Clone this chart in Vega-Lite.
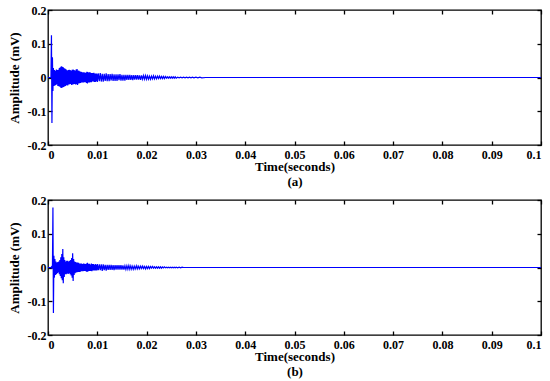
{
  "$schema": "https://vega.github.io/schema/vega-lite/v6.json",
  "padding": {"left": 7, "top": 3, "right": 5, "bottom": 0},
  "background": "white",
  "config": {
    "view": {"stroke": "black", "strokeWidth": 1.3},
    "font": "Times New Roman",
    "axis": {
      "domain": false,
      "grid": false,
      "tickColor": "black",
      "tickSize": -4,
      "tickWidth": 1.3,
      "labelFont": "Times New Roman",
      "labelFontWeight": "bold",
      "labelFontSize": 12,
      "labelColor": "black",
      "titleFont": "Times New Roman",
      "titleFontWeight": "bold",
      "titleFontSize": 13,
      "titleColor": "black"
    }
  },
  "datasets": {
    "sig": [
      {"t":0,"a":0,"b":0},{"t":0.0006,"a":0,"b":0},
      {"t":0.0007,"a":0.125,"b":0.002},{"t":0.0008,"a":-0.135,"b":-0.003},{"t":0.0009,"a":0.06,"b":0.004},{"t":0.001,"a":-0.04,"b":0.178},
      {"t":0.0011,"a":0.028,"b":-0.135},{"t":0.0012,"a":-0.025,"b":0.035},{"t":0.0013,"a":0.022,"b":-0.03},{"t":0.0014,"a":-0.024,"b":0.025},
      {"t":0.0015,"a":0.02,"b":-0.022},{"t":0.0016,"a":-0.022,"b":0.018},{"t":0.0017,"a":0.024,"b":-0.02},{"t":0.0018,"a":-0.02,"b":0.015},
      {"t":0.0019,"a":0.022,"b":-0.017},{"t":0.002,"a":-0.025,"b":0.016},{"t":0.0021,"a":0.023,"b":-0.015},{"t":0.0022,"a":-0.026,"b":0.018},
      {"t":0.0023,"a":0.028,"b":-0.02},{"t":0.0024,"a":-0.027,"b":0.022},{"t":0.0025,"a":0.03,"b":-0.025},{"t":0.0026,"a":-0.03,"b":0.03},
      {"t":0.0027,"a":0.033,"b":-0.032},{"t":0.0028,"a":-0.031,"b":0.04},{"t":0.0029,"a":0.032,"b":-0.038},{"t":0.003,"a":-0.029,"b":0.055},
      {"t":0.0031,"a":0.03,"b":-0.047},{"t":0.0032,"a":-0.028,"b":0.03},{"t":0.0033,"a":0.027,"b":-0.028},{"t":0.0034,"a":-0.026,"b":0.022},
      {"t":0.0035,"a":0.026,"b":-0.02},{"t":0.0036,"a":-0.025,"b":0.018},{"t":0.0037,"a":0.024,"b":-0.02},{"t":0.0038,"a":-0.022,"b":0.02},
      {"t":0.0039,"a":0.021,"b":-0.018},{"t":0.004,"a":-0.024,"b":0.02},{"t":0.0041,"a":0.022,"b":-0.019},{"t":0.0042,"a":-0.021,"b":0.018},
      {"t":0.0043,"a":0.023,"b":-0.017},{"t":0.0044,"a":-0.02,"b":0.02},{"t":0.0045,"a":0.022,"b":-0.02},{"t":0.0046,"a":-0.019,"b":0.022},
      {"t":0.0047,"a":0.02,"b":-0.024},{"t":0.0048,"a":-0.022,"b":0.028},{"t":0.0049,"a":0.023,"b":-0.03},{"t":0.005,"a":-0.021,"b":0.042},
      {"t":0.0051,"a":0.024,"b":-0.04},{"t":0.0052,"a":-0.02,"b":0.025},{"t":0.0053,"a":0.022,"b":-0.022},{"t":0.0054,"a":-0.019,"b":0.018},
      {"t":0.0055,"a":0.02,"b":-0.017},{"t":0.0056,"a":-0.021,"b":0.016},{"t":0.0057,"a":0.024,"b":-0.015},{"t":0.0058,"a":-0.02,"b":0.015},
      {"t":0.0059,"a":0.025,"b":-0.014},{"t":0.006,"a":-0.022,"b":0.015},{"t":0.0061,"a":0.021,"b":-0.013},{"t":0.0062,"a":-0.018,"b":0.014},
      {"t":0.0063,"a":0.02,"b":-0.013},{"t":0.0064,"a":-0.017,"b":0.012},{"t":0.0065,"a":0.018,"b":-0.013},{"t":0.0066,"a":-0.016,"b":0.012},
      {"t":0.0067,"a":0.017,"b":-0.011},{"t":0.0068,"a":-0.015,"b":0.012},{"t":0.0069,"a":0.016,"b":-0.011},{"t":0.007,"a":-0.015,"b":0.01},
      {"t":0.0071,"a":0.014,"b":-0.011},{"t":0.0072,"a":-0.015,"b":0.012},{"t":0.0073,"a":0.016,"b":-0.01},{"t":0.0074,"a":-0.014,"b":0.011},
      {"t":0.0075,"a":0.013,"b":-0.01},{"t":0.0076,"a":-0.014,"b":0.01},{"t":0.0077,"a":0.015,"b":-0.011},{"t":0.0078,"a":-0.016,"b":0.012},
      {"t":0.0079,"a":0.017,"b":-0.013},{"t":0.008,"a":-0.018,"b":0.014},{"t":0.0081,"a":0.016,"b":-0.012},{"t":0.0082,"a":-0.015,"b":0.011},
      {"t":0.0083,"a":0.014,"b":-0.01},{"t":0.0084,"a":-0.015,"b":0.011},{"t":0.0085,"a":0.016,"b":-0.01},{"t":0.0086,"a":-0.014,"b":0.009},
      {"t":0.0087,"a":0.013,"b":-0.01},{"t":0.0088,"a":-0.014,"b":0.012},{"t":0.0089,"a":0.013,"b":-0.011},{"t":0.009,"a":-0.012,"b":0.01},
      {"t":0.0091,"a":0.013,"b":-0.009},{"t":0.0092,"a":-0.012,"b":0.01},{"t":0.0093,"a":0.014,"b":-0.009},{"t":0.0094,"a":-0.013,"b":0.008},
      {"t":0.0095,"a":0.012,"b":-0.009},{"t":0.0096,"a":-0.013,"b":0.01},{"t":0.0097,"a":0.012,"b":-0.009},{"t":0.0098,"a":-0.011,"b":0.008},
      {"t":0.0099,"a":0.012,"b":-0.009},{"t":0.01,"a":-0.013,"b":0.01},
      {"t":0.0102,"a":0.012,"b":-0.008},{"t":0.0104,"a":-0.011,"b":0.009},{"t":0.0106,"a":0.013,"b":-0.008},{"t":0.0108,"a":-0.012,"b":0.009},
      {"t":0.011,"a":0.011,"b":-0.01},{"t":0.0112,"a":-0.012,"b":0.009},{"t":0.0114,"a":0.011,"b":-0.008},{"t":0.0116,"a":-0.01,"b":0.008},
      {"t":0.0118,"a":0.012,"b":-0.009},{"t":0.012,"a":-0.011,"b":0.008},{"t":0.0122,"a":0.01,"b":-0.007},{"t":0.0124,"a":-0.011,"b":0.008},
      {"t":0.0126,"a":0.01,"b":-0.007},{"t":0.0128,"a":-0.009,"b":0.008},{"t":0.013,"a":0.011,"b":-0.007},{"t":0.0132,"a":-0.01,"b":0.007},
      {"t":0.0134,"a":0.009,"b":-0.008},{"t":0.0136,"a":-0.01,"b":0.007},{"t":0.0138,"a":0.009,"b":-0.006},{"t":0.014,"a":-0.01,"b":0.007},
      {"t":0.0142,"a":0.009,"b":-0.006},{"t":0.0144,"a":-0.008,"b":0.007},{"t":0.0146,"a":0.01,"b":-0.006},{"t":0.0148,"a":-0.009,"b":0.007},
      {"t":0.015,"a":0.008,"b":-0.006},{"t":0.0152,"a":-0.009,"b":0.006},{"t":0.0154,"a":0.008,"b":-0.006},{"t":0.0156,"a":-0.009,"b":0.005},
      {"t":0.0158,"a":0.008,"b":-0.006},{"t":0.016,"a":-0.007,"b":0.005},{"t":0.0162,"a":0.008,"b":-0.005},{"t":0.0164,"a":-0.007,"b":0.006},
      {"t":0.0166,"a":0.008,"b":-0.005},{"t":0.0168,"a":-0.007,"b":0.005},{"t":0.017,"a":0.007,"b":-0.005},{"t":0.0172,"a":-0.008,"b":0.004},
      {"t":0.0174,"a":0.007,"b":-0.005},{"t":0.0176,"a":-0.006,"b":0.004},{"t":0.0178,"a":0.007,"b":-0.004},{"t":0.018,"a":-0.006,"b":0.005},
      {"t":0.0182,"a":0.007,"b":-0.004},{"t":0.0184,"a":-0.006,"b":0.004},{"t":0.0186,"a":0.006,"b":-0.004},{"t":0.0188,"a":-0.007,"b":0.004},
      {"t":0.019,"a":0.006,"b":-0.003},{"t":0.0192,"a":-0.005,"b":0.004},{"t":0.0194,"a":0.006,"b":-0.003},{"t":0.0196,"a":-0.005,"b":0.003},
      {"t":0.0198,"a":0.006,"b":-0.004},{"t":0.02,"a":-0.005,"b":0.003},{"t":0.0202,"a":0.005,"b":-0.003},{"t":0.0204,"a":-0.005,"b":0.003},
      {"t":0.0206,"a":0.004,"b":-0.003},{"t":0.0208,"a":-0.005,"b":0.003},{"t":0.021,"a":0.004,"b":-0.002},{"t":0.0212,"a":-0.004,"b":0.003},
      {"t":0.0214,"a":0.005,"b":-0.002},{"t":0.0216,"a":-0.004,"b":0.002},{"t":0.0218,"a":0.004,"b":-0.002},{"t":0.022,"a":-0.004,"b":0.002},
      {"t":0.0222,"a":0.004,"b":-0.002},{"t":0.0224,"a":-0.003,"b":0.002},{"t":0.0226,"a":0.004,"b":-0.002},{"t":0.0228,"a":-0.003,"b":0.002},
      {"t":0.023,"a":0.003,"b":-0.002},{"t":0.0232,"a":-0.003,"b":0.002},{"t":0.0234,"a":0.003,"b":-0.001},{"t":0.0236,"a":-0.003,"b":0.002},
      {"t":0.0238,"a":0.003,"b":-0.001},{"t":0.024,"a":-0.002,"b":0.001},{"t":0.0242,"a":0.002,"b":-0.001},{"t":0.0244,"a":-0.002,"b":0.001},
      {"t":0.0246,"a":0.002,"b":-0.001},{"t":0.0248,"a":-0.002,"b":0.001},{"t":0.025,"a":0.002,"b":-0.001},{"t":0.0252,"a":-0.002,"b":0.001},
      {"t":0.0254,"a":0.002,"b":-0.001},{"t":0.0256,"a":-0.002,"b":0.001},{"t":0.0258,"a":0.002,"b":-0.001},{"t":0.026,"a":-0.002,"b":0.001},
      {"t":0.0263,"a":0.001,"b":-0.001},{"t":0.0266,"a":-0.001,"b":0.001},{"t":0.0269,"a":0.001,"b":-0.001},{"t":0.0272,"a":-0.001,"b":0.001},
      {"t":0.0275,"a":0.001,"b":0},{"t":0.0278,"a":-0.001,"b":0},{"t":0.0281,"a":0.001,"b":0},{"t":0.0284,"a":-0.001,"b":0},
      {"t":0.0287,"a":0.001,"b":0},{"t":0.029,"a":-0.001,"b":0},{"t":0.0293,"a":0.001,"b":0},{"t":0.0296,"a":-0.001,"b":0},
      {"t":0.03,"a":0.001,"b":0},{"t":0.0304,"a":-0.001,"b":0},{"t":0.0308,"a":0.001,"b":0},{"t":0.0312,"a":-0.001,"b":0},
      {"t":0.032,"a":0,"b":0},{"t":0.1,"a":0,"b":0}
    ]
  },
  "bounds": "flush",
  "spacing": 55,
  "vconcat": [
    {
      "width": 493,
      "height": 135,
      "data": {"name": "sig"},
      "resolve": {"axis": {"x": "independent", "y": "independent"}},
      "layer": [
        {
          "mark": {"type": "line", "color": "#0000FF", "strokeWidth": 1.2, "clip": true},
          "encoding": {
            "x": {"field": "t", "type": "quantitative", "scale": {"domain": [0, 0.1], "nice": false},
                  "axis": {"orient": "bottom", "values": [0,0.01,0.02,0.03,0.04,0.05,0.06,0.07,0.08,0.09,0.1], "labelExpr": "replace(format(datum.value, '~g'), '\u2212', '-')", "labelPadding": 8, "title": ["Time(seconds)", "(a)"], "titleLineHeight": 15, "titlePadding": 0}},
            "y": {"field": "a", "type": "quantitative", "scale": {"domain": [-0.2, 0.2], "nice": false},
                  "axis": {"orient": "left", "values": [-0.2,-0.1,0,0.1,0.2], "labelExpr": "replace(format(datum.value, '~g'), '\u2212', '-')", "labelPadding": 6, "title": "Amplitude (mV)", "titlePadding": 6}}
          }
        },
        {
          "mark": {"type": "line", "opacity": 0},
          "encoding": {
            "x": {"field": "t", "type": "quantitative", "axis": {"orient": "top", "values": [0,0.01,0.02,0.03,0.04,0.05,0.06,0.07,0.08,0.09,0.1], "labels": false, "title": null}},
            "y": {"field": "a", "type": "quantitative", "axis": {"orient": "right", "values": [-0.2,-0.1,0,0.1,0.2], "labels": false, "title": null}}
          }
        }
      ]
    },
    {
      "width": 493,
      "height": 135,
      "data": {"name": "sig"},
      "resolve": {"axis": {"x": "independent", "y": "independent"}},
      "layer": [
        {
          "mark": {"type": "line", "color": "#0000FF", "strokeWidth": 1.2, "clip": true},
          "encoding": {
            "x": {"field": "t", "type": "quantitative", "scale": {"domain": [0, 0.1], "nice": false},
                  "axis": {"orient": "bottom", "values": [0,0.01,0.02,0.03,0.04,0.05,0.06,0.07,0.08,0.09,0.1], "labelExpr": "replace(format(datum.value, '~g'), '\u2212', '-')", "labelPadding": 8, "title": ["Time(seconds)", "(b)"], "titleLineHeight": 15, "titlePadding": 0}},
            "y": {"field": "b", "type": "quantitative", "scale": {"domain": [-0.2, 0.2], "nice": false},
                  "axis": {"orient": "left", "values": [-0.2,-0.1,0,0.1,0.2], "labelExpr": "replace(format(datum.value, '~g'), '\u2212', '-')", "labelPadding": 6, "title": "Amplitude (mV)", "titlePadding": 6}}
          }
        },
        {
          "mark": {"type": "line", "opacity": 0},
          "encoding": {
            "x": {"field": "t", "type": "quantitative", "axis": {"orient": "top", "values": [0,0.01,0.02,0.03,0.04,0.05,0.06,0.07,0.08,0.09,0.1], "labels": false, "title": null}},
            "y": {"field": "b", "type": "quantitative", "axis": {"orient": "right", "values": [-0.2,-0.1,0,0.1,0.2], "labels": false, "title": null}}
          }
        }
      ]
    }
  ]
}
